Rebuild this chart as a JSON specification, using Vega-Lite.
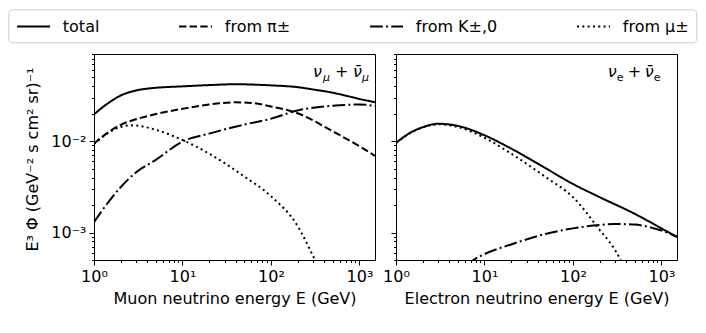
{
  "$schema": "https://vega.github.io/schema/vega-lite/v6.json",
  "padding": {"left": 7, "top": 8, "right": 3, "bottom": 5},
  "background": "white",
  "datasets": {
    "mu": [
      {"series": "total", "E": 1, "flux": 0.0196},
      {"series": "total", "E": 1.2, "flux": 0.0228},
      {"series": "total", "E": 1.5, "flux": 0.0267},
      {"series": "total", "E": 2, "flux": 0.0316},
      {"series": "total", "E": 3, "flux": 0.0359},
      {"series": "total", "E": 5, "flux": 0.0384},
      {"series": "total", "E": 7, "flux": 0.0392},
      {"series": "total", "E": 10, "flux": 0.0398},
      {"series": "total", "E": 20, "flux": 0.0411},
      {"series": "total", "E": 40, "flux": 0.042},
      {"series": "total", "E": 100, "flux": 0.0408},
      {"series": "total", "E": 200, "flux": 0.039},
      {"series": "total", "E": 300, "flux": 0.0368},
      {"series": "total", "E": 500, "flux": 0.0339},
      {"series": "total", "E": 700, "flux": 0.0315},
      {"series": "total", "E": 1000, "flux": 0.029},
      {"series": "total", "E": 1500, "flux": 0.0267},
      {"series": "from π±", "E": 1, "flux": 0.0094},
      {"series": "from π±", "E": 1.5, "flux": 0.0128},
      {"series": "from π±", "E": 2, "flux": 0.0151},
      {"series": "from π±", "E": 3, "flux": 0.0174},
      {"series": "from π±", "E": 5, "flux": 0.0198},
      {"series": "from π±", "E": 10, "flux": 0.0226},
      {"series": "from π±", "E": 20, "flux": 0.0252},
      {"series": "from π±", "E": 40, "flux": 0.0266},
      {"series": "from π±", "E": 60, "flux": 0.0262},
      {"series": "from π±", "E": 100, "flux": 0.024},
      {"series": "from π±", "E": 200, "flux": 0.0202},
      {"series": "from π±", "E": 500, "flux": 0.0128},
      {"series": "from π±", "E": 1000, "flux": 0.0088},
      {"series": "from π±", "E": 1500, "flux": 0.0069},
      {"series": "from K±,0", "E": 1, "flux": 0.0013},
      {"series": "from K±,0", "E": 1.5, "flux": 0.00224},
      {"series": "from K±,0", "E": 2, "flux": 0.00313},
      {"series": "from K±,0", "E": 3, "flux": 0.00457},
      {"series": "from K±,0", "E": 5, "flux": 0.00625},
      {"series": "from K±,0", "E": 10, "flux": 0.0099},
      {"series": "from K±,0", "E": 20, "flux": 0.0121},
      {"series": "from K±,0", "E": 50, "flux": 0.0152},
      {"series": "from K±,0", "E": 100, "flux": 0.0176},
      {"series": "from K±,0", "E": 200, "flux": 0.0217},
      {"series": "from K±,0", "E": 500, "flux": 0.0244},
      {"series": "from K±,0", "E": 1000, "flux": 0.0252},
      {"series": "from K±,0", "E": 1500, "flux": 0.0243},
      {"series": "from μ±", "E": 1, "flux": 0.0093},
      {"series": "from μ±", "E": 1.5, "flux": 0.0126},
      {"series": "from μ±", "E": 2, "flux": 0.0143},
      {"series": "from μ±", "E": 2.5, "flux": 0.0149},
      {"series": "from μ±", "E": 3, "flux": 0.0148},
      {"series": "from μ±", "E": 5, "flux": 0.0133},
      {"series": "from μ±", "E": 10, "flux": 0.0103},
      {"series": "from μ±", "E": 20, "flux": 0.0073},
      {"series": "from μ±", "E": 50, "flux": 0.0041},
      {"series": "from μ±", "E": 100, "flux": 0.0025},
      {"series": "from μ±", "E": 200, "flux": 0.00118},
      {"series": "from μ±", "E": 300, "flux": 0.00055},
      {"series": "from μ±", "E": 340, "flux": 0.00043}
    ],
    "e": [
      {"series": "total", "E": 1, "flux": 0.0096},
      {"series": "total", "E": 1.5, "flux": 0.0126},
      {"series": "total", "E": 2, "flux": 0.0142},
      {"series": "total", "E": 3, "flux": 0.0155},
      {"series": "total", "E": 5, "flux": 0.0147},
      {"series": "total", "E": 10, "flux": 0.0116},
      {"series": "total", "E": 20, "flux": 0.0083},
      {"series": "total", "E": 50, "flux": 0.005},
      {"series": "total", "E": 100, "flux": 0.0034},
      {"series": "total", "E": 200, "flux": 0.00244},
      {"series": "total", "E": 500, "flux": 0.0016},
      {"series": "total", "E": 1000, "flux": 0.00111},
      {"series": "total", "E": 1500, "flux": 0.00089},
      {"series": "from K±,0", "E": 6.3, "flux": 0.00044},
      {"series": "from K±,0", "E": 7.5, "flux": 0.0005},
      {"series": "from K±,0", "E": 10, "flux": 0.00058},
      {"series": "from K±,0", "E": 20, "flux": 0.00074},
      {"series": "from K±,0", "E": 50, "flux": 0.00097},
      {"series": "from K±,0", "E": 100, "flux": 0.00111},
      {"series": "from K±,0", "E": 200, "flux": 0.00121},
      {"series": "from K±,0", "E": 300, "flux": 0.00124},
      {"series": "from K±,0", "E": 500, "flux": 0.00122},
      {"series": "from K±,0", "E": 1000, "flux": 0.00105},
      {"series": "from K±,0", "E": 1500, "flux": 0.0009},
      {"series": "from μ±", "E": 1, "flux": 0.0095},
      {"series": "from μ±", "E": 1.5, "flux": 0.0125},
      {"series": "from μ±", "E": 2, "flux": 0.0141},
      {"series": "from μ±", "E": 3, "flux": 0.0153},
      {"series": "from μ±", "E": 5, "flux": 0.0143},
      {"series": "from μ±", "E": 10, "flux": 0.0109},
      {"series": "from μ±", "E": 20, "flux": 0.0073},
      {"series": "from μ±", "E": 50, "flux": 0.004},
      {"series": "from μ±", "E": 100, "flux": 0.00244},
      {"series": "from μ±", "E": 200, "flux": 0.00107},
      {"series": "from μ±", "E": 300, "flux": 0.00064},
      {"series": "from μ±", "E": 380, "flux": 0.00042}
    ],
    "labels": [
      {"panel": "mu", "E": 298, "flux": 0.051},
      {"panel": "e", "E": 247, "flux": 0.051}
    ]
  },
  "hconcat": [
    {
      "width": 281,
      "height": 206,
      "encoding": {
        "x": {"field": "E", "type": "quantitative",
          "scale": {"type": "log", "domain": [1, 1500], "nice": false},
          "axis": {"title": "Muon neutrino energy E (GeV)",
            "values": [1,2,3,4,5,6,7,8,9,10,20,30,40,50,60,70,80,90,100,200,300,400,500,600,700,800,900,1000],
            "labelExpr": "datum.value == 1 ? '10⁰' : datum.value == 10 ? '10¹' : datum.value == 100 ? '10²' : datum.value == 1000 ? '10³' : ''",
            "tickSize": {"condition": {"test": "indexof([1,10,100,1000], datum.value) >= 0", "value": 5}, "value": 2.5}}},
        "y": {"field": "flux", "type": "quantitative",
          "scale": {"type": "log", "domain": [0.0005, 0.09], "nice": false},
          "axis": {"title": "E³ Φ (GeV⁻² s cm² sr)⁻¹",
            "values": [0.0005,0.0006,0.0007,0.0008,0.0009,0.001,0.002,0.003,0.004,0.005,0.006,0.007,0.008,0.009,0.01,0.02,0.03,0.04,0.05,0.06,0.07,0.08,0.09],
            "labelExpr": "datum.value == 0.001 ? '10⁻³' : datum.value == 0.01 ? '10⁻²' : ''",
            "titleAngle": 270,
            "titleBaseline": "bottom",
            "titleAlign": "center",
            "titleX": -54,
            "titleY": 105,
            "tickSize": {"condition": {"test": "datum.value == 0.001 || datum.value == 0.01", "value": 5}, "value": 2.5}}}
      },
      "layer": [
        {
          "data": {"name": "mu"},
          "mark": {"type": "line", "clip": true, "strokeWidth": 2, "color": "black", "interpolate": "monotone"},
          "encoding": {
            "strokeDash": {"field": "series", "type": "nominal",
              "scale": {"domain": ["total", "from π±", "from K±,0", "from μ±"],
                "range": [[1, 0], [7.4, 3.2], [12.8, 3.2, 2, 3.2], [2, 3.3]]},
              "legend": {"title": null}}
          }
        },
        {"data": {"name": "labels"}, "transform": [{"filter": "datum.panel == 'mu'"}],
         "mark": {"type": "text", "text": "ν", "align": "left", "baseline": "alphabetic", "font": "DejaVu Sans", "fontSize": 16, "fontStyle": "italic", "dx": 0}},
        {"data": {"name": "labels"}, "transform": [{"filter": "datum.panel == 'mu'"}],
         "mark": {"type": "text", "text": "μ", "align": "left", "baseline": "alphabetic", "font": "DejaVu Sans", "fontSize": 11, "fontStyle": "italic", "dx": 10, "dy": 4}},
        {"data": {"name": "labels"}, "transform": [{"filter": "datum.panel == 'mu'"}],
         "mark": {"type": "text", "text": "+", "align": "left", "baseline": "alphabetic", "font": "DejaVu Sans", "fontSize": 16, "dx": 22}},
        {"data": {"name": "labels"}, "transform": [{"filter": "datum.panel == 'mu'"}],
         "mark": {"type": "text", "text": "ν̄", "align": "left", "baseline": "alphabetic", "font": "DejaVu Sans", "fontSize": 16, "fontStyle": "italic", "dx": 40}},
        {"data": {"name": "labels"}, "transform": [{"filter": "datum.panel == 'mu'"}],
         "mark": {"type": "text", "text": "μ", "align": "left", "baseline": "alphabetic", "font": "DejaVu Sans", "fontSize": 11, "fontStyle": "italic", "dx": 49, "dy": 4}}
      ]
    },
    {
      "width": 281,
      "height": 206,
      "encoding": {
        "x": {"field": "E", "type": "quantitative",
          "scale": {"type": "log", "domain": [1, 1500], "nice": false},
          "axis": {"title": "Electron neutrino energy E (GeV)",
            "values": [1,2,3,4,5,6,7,8,9,10,20,30,40,50,60,70,80,90,100,200,300,400,500,600,700,800,900,1000],
            "labelExpr": "datum.value == 1 ? '10⁰' : datum.value == 10 ? '10¹' : datum.value == 100 ? '10²' : datum.value == 1000 ? '10³' : ''",
            "tickSize": {"condition": {"test": "indexof([1,10,100,1000], datum.value) >= 0", "value": 5}, "value": 2.5}}},
        "y": {"field": "flux", "type": "quantitative",
          "scale": {"type": "log", "domain": [0.0005, 0.09], "nice": false},
          "axis": {"title": null, "labels": false,
            "values": [0.0005,0.0006,0.0007,0.0008,0.0009,0.001,0.002,0.003,0.004,0.005,0.006,0.007,0.008,0.009,0.01,0.02,0.03,0.04,0.05,0.06,0.07,0.08,0.09],
            "tickSize": {"condition": {"test": "datum.value == 0.001 || datum.value == 0.01", "value": 5}, "value": 2.5}}}
      },
      "layer": [
        {
          "data": {"name": "e"},
          "mark": {"type": "line", "clip": true, "strokeWidth": 2, "color": "black", "interpolate": "monotone"},
          "encoding": {
            "strokeDash": {"field": "series", "type": "nominal",
              "scale": {"domain": ["total", "from π±", "from K±,0", "from μ±"],
                "range": [[1, 0], [7.4, 3.2], [12.8, 3.2, 2, 3.2], [2, 3.3]]},
              "legend": {"title": null}}
          }
        },
        {"data": {"name": "labels"}, "transform": [{"filter": "datum.panel == 'e'"}],
         "mark": {"type": "text", "text": "ν", "align": "left", "baseline": "alphabetic", "font": "DejaVu Sans", "fontSize": 16, "fontStyle": "italic", "dx": 0}},
        {"data": {"name": "labels"}, "transform": [{"filter": "datum.panel == 'e'"}],
         "mark": {"type": "text", "text": "e", "align": "left", "baseline": "alphabetic", "font": "DejaVu Sans", "fontSize": 11, "dx": 9, "dy": 4}},
        {"data": {"name": "labels"}, "transform": [{"filter": "datum.panel == 'e'"}],
         "mark": {"type": "text", "text": "+", "align": "left", "baseline": "alphabetic", "font": "DejaVu Sans", "fontSize": 16, "dx": 20}},
        {"data": {"name": "labels"}, "transform": [{"filter": "datum.panel == 'e'"}],
         "mark": {"type": "text", "text": "ν̄", "align": "left", "baseline": "alphabetic", "font": "DejaVu Sans", "fontSize": 16, "fontStyle": "italic", "dx": 37}},
        {"data": {"name": "labels"}, "transform": [{"filter": "datum.panel == 'e'"}],
         "mark": {"type": "text", "text": "e", "align": "left", "baseline": "alphabetic", "font": "DejaVu Sans", "fontSize": 11, "dx": 46, "dy": 4}}
      ]
    }
  ],
  "spacing": 6,
  "config": {
    "font": "DejaVu Sans",
    "view": {"stroke": "black", "strokeWidth": 1},
    "axis": {
      "grid": false,
      "domainColor": "black",
      "domainWidth": 1,
      "tickColor": "black",
      "tickWidth": 1,
      "labelFont": "DejaVu Sans",
      "labelFontSize": 16,
      "labelColor": "black",
      "labelPadding": 3,
      "labelFlush": false,
      "labelOverlap": false,
      "titleFont": "DejaVu Sans",
      "titleFontSize": 16,
      "titleFontWeight": "normal",
      "titleColor": "black",
      "titlePadding": 6
    },
    "legend": {
      "orient": "none",
      "legendX": -85.7,
      "legendY": -44.7,
      "direction": "horizontal",
      "columns": 4,
      "symbolType": "M-1,0H3",
      "symbolSize": 272.25,
      "symbolStrokeWidth": 2,
      "symbolStrokeColor": "black",
      "labelFont": "DejaVu Sans",
      "labelFontSize": 16,
      "labelColor": "black",
      "labelOffset": 28,
      "columnPadding": 75,
      "strokeColor": "#cccccc",
      "cornerRadius": 4,
      "padding": 7.5,
      "labelLimit": 300
    }
  }
}
